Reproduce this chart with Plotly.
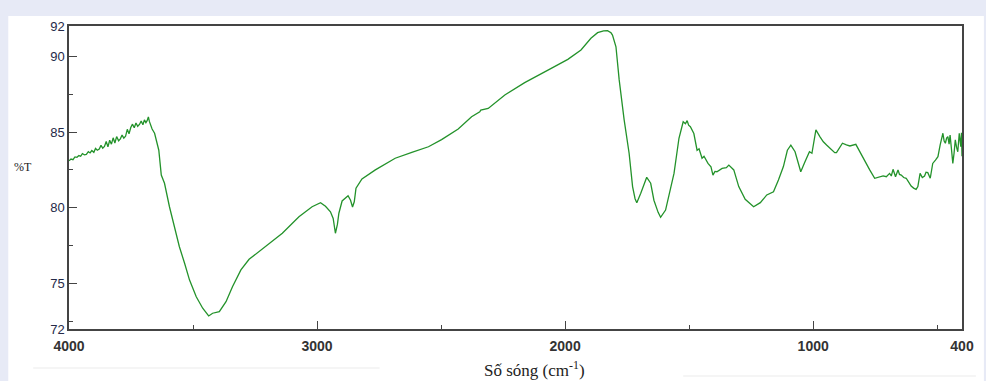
import plotly.graph_objects as go

# Wavenumber (cm^-1) and transmittance (%T)
wavenumber = [
    4000, 3992, 3984, 3976, 3968, 3960, 3953, 3946, 3938, 3930, 3922, 3915, 3908, 3900,
    3893, 3886, 3878, 3871, 3864, 3857, 3850, 3843, 3836, 3829, 3822, 3815, 3808, 3800,
    3793, 3786, 3779, 3772, 3765, 3758, 3751, 3744, 3737, 3730, 3723, 3716, 3709, 3702,
    3696, 3690, 3685, 3680,
    3676, 3665, 3655, 3645, 3638, 3628, 3615, 3595, 3575, 3555, 3534, 3514, 3487, 3461,
    3437, 3430, 3421, 3394, 3367, 3341, 3307, 3274, 3207, 3140, 3073, 3020, 2986, 2966,
    2946, 2935, 2926, 2918, 2912, 2899, 2875, 2865, 2857, 2850, 2843, 2819, 2765, 2685,
    2618, 2551, 2498, 2431, 2377, 2344, 2340, 2310, 2243, 2163, 2056, 1989, 1936, 1896,
    1869, 1845, 1829, 1815, 1809, 1795, 1782, 1762, 1742, 1728, 1718, 1711, 1695, 1680,
    1671, 1655, 1642, 1625, 1615, 1595, 1578, 1561, 1541, 1530, 1524, 1515, 1508, 1502,
    1495, 1481, 1468, 1460, 1448, 1440, 1424, 1412, 1404, 1396, 1388, 1367, 1350, 1340,
    1320, 1300, 1274, 1240, 1213, 1187, 1160, 1140, 1120, 1104, 1090, 1073, 1062, 1050,
    1033, 1015, 1005, 989, 973, 959, 946, 933, 913, 906, 882, 866, 852, 828,
    799, 772, 752, 735, 718, 705, 692, 685, 678, 668, 658, 652, 645, 635,
    625, 615, 605, 595, 585, 578, 569, 560, 551, 545, 538, 528, 518, 507,
    497, 488, 477, 472, 467, 462, 457, 452, 448, 442, 437, 432, 427, 422,
    417, 411, 405, 402, 400,
]
transmittance = [
    83.10, 83.22, 83.18, 83.36, 83.33, 83.45, 83.40, 83.58, 83.50, 83.52, 83.70, 83.62, 83.78, 83.66,
    83.92, 83.80, 83.88, 84.12, 83.94, 84.05, 84.38, 84.02, 84.46, 84.20, 84.62, 84.28, 84.70, 84.42,
    84.55, 84.80, 84.60, 84.72, 85.18, 84.88, 85.30, 85.52, 85.28, 85.60, 85.38, 85.50, 85.72, 85.48,
    85.80, 85.62, 85.75, 86.00,
    85.70, 85.20, 84.92, 84.30, 83.80, 82.16, 81.62, 80.07, 78.75, 77.43, 76.34, 75.23, 74.13, 73.37,
    72.86, 72.95, 73.04, 73.14, 73.80, 74.79, 75.90, 76.60, 77.43, 78.32, 79.41, 80.07, 80.34, 80.10,
    79.74, 79.30, 78.32, 78.90, 79.64, 80.45, 80.80, 80.50, 80.05, 80.40, 81.29, 81.90, 82.50, 83.27,
    83.66, 84.03, 84.50, 85.20, 86.01, 86.34, 86.45, 86.56, 87.45, 88.26, 89.20, 89.80, 90.42, 91.19,
    91.56, 91.68, 91.69, 91.55, 91.40, 90.63, 88.44, 85.80, 83.60, 81.40, 80.60, 80.34, 80.96, 81.70,
    82.01, 81.62, 80.50, 79.70, 79.37, 79.85, 81.00, 82.27, 84.59, 85.40, 85.68, 85.55, 85.75, 85.45,
    85.35, 84.90, 83.80, 83.90, 83.27, 83.40, 82.93, 82.70, 82.16, 82.40, 82.38, 82.60, 82.65, 82.82,
    82.50, 81.40, 80.56, 80.07, 80.34, 80.85, 81.06, 81.84, 82.72, 83.80, 84.14, 83.70, 83.00, 82.38,
    83.04, 83.70, 83.60, 85.14, 84.70, 84.36, 84.15, 83.93, 83.64, 83.64, 84.26, 84.15, 84.08, 84.19,
    83.27, 82.50, 81.95, 82.00, 82.10, 82.05, 82.27, 82.10, 82.54, 82.05, 82.50, 82.20, 82.16, 82.00,
    81.95, 81.70, 81.44, 81.30, 81.22, 81.40, 82.27, 82.00, 82.10, 82.35, 82.32, 81.95, 82.93, 83.15,
    83.37, 84.15, 84.92, 84.40, 84.26, 84.60, 84.70, 84.20, 84.80, 83.80, 82.93, 83.60, 84.48, 84.00,
    83.70, 84.92, 84.04, 84.96, 83.40,
]

x_tick_values = [4000, 3000, 2000, 1000, 400]
x_tick_labels = ["4000", "3000", "2000", "1000", "400"]
y_tick_values = [72, 75, 80, 85, 90, 92]
y_tick_labels = ["72", "75", "80", "85", "90", "92"]

fig = go.Figure()
fig.add_trace(go.Scatter(
    x=wavenumber, y=transmittance, mode="lines",
    line=dict(color="#23922a", width=1.3),
    hoverinfo="x+y", showlegend=False,
))

axis_color = "#444444"
fig.update_xaxes(
    range=[4000, 400], showgrid=False, zeroline=False,
    showline=True, linecolor=axis_color, linewidth=1.5, mirror=True,
    tickmode="array", tickvals=x_tick_values,
    ticktext=["<b>%s</b>" % t for t in x_tick_labels],
    ticks="inside", ticklen=8, tickwidth=1.3, tickcolor=axis_color,
    tickfont=dict(family="Liberation Sans, Arial, sans-serif", size=14, color="#333333"),
    ticklabelstandoff=3,
    minor=dict(tickmode="linear", tick0=500, dtick=1000, ticks="inside",
               ticklen=4, tickwidth=1.2, tickcolor=axis_color, showgrid=False),
)
fig.update_yaxes(
    range=[72, 92], showgrid=False, zeroline=False,
    showline=True, linecolor=axis_color, linewidth=1.5, mirror=True,
    tickmode="array", tickvals=y_tick_values, ticktext=y_tick_labels,
    ticks="inside", ticklen=8, tickwidth=1.3, tickcolor=axis_color,
    tickfont=dict(family="Liberation Sans, Arial, sans-serif", size=13, color="#252a48"),
    minor=dict(tickmode="linear", tick0=72.5, dtick=5, ticks="inside",
               ticklen=4, tickwidth=1.2, tickcolor=axis_color, showgrid=False),
)

L, R, T, B = 69, 20, 26, 52
W, H = 986, 381
pw, ph = W - L - R, H - T - B


def px(xp):
    return (xp - L) / pw


def py(yp):
    return (H - B - yp) / ph


fig.update_layout(
    width=W, height=H,
    margin=dict(l=L, r=R, t=T, b=B, pad=0),
    paper_bgcolor="#e7eaf6", plot_bgcolor="white",
    shapes=[
        dict(type="rect", xref="paper", yref="paper", layer="below",
             x0=px(8), x1=px(W + 2), y0=py(16), y1=py(H + 2),
             fillcolor="white", line=dict(width=0)),
        dict(type="line", xref="paper", yref="paper", layer="above",
             x0=px(33), x1=px(381), y0=py(368), y1=py(368),
             line=dict(color="#ebebeb", width=1)),
        dict(type="line", xref="paper", yref="paper", layer="above",
             x0=px(686), x1=px(980), y0=py(376), y1=py(376),
             line=dict(color="#ebebeb", width=1)),
    ],
    annotations=[
        dict(text="%T", xref="paper", yref="paper", x=px(23), y=py(167),
             showarrow=False, xanchor="center", yanchor="middle",
             font=dict(family="Liberation Serif, Times New Roman, serif", size=12, color="#222222")),
        dict(text="Số sóng (cm<sup>-1</sup>)", xref="paper", yref="paper",
             x=px(537), y=py(369), showarrow=False, xanchor="center", yanchor="middle",
             font=dict(family="Liberation Serif, Times New Roman, serif", size=17, color="#222222")),
    ],
)

fig.write_html(
    "out.html",
    config={"displayModeBar": False},
    post_script="document.body.style.margin='0';document.body.style.padding='0';"
                "document.body.style.overflow='hidden';",
)
